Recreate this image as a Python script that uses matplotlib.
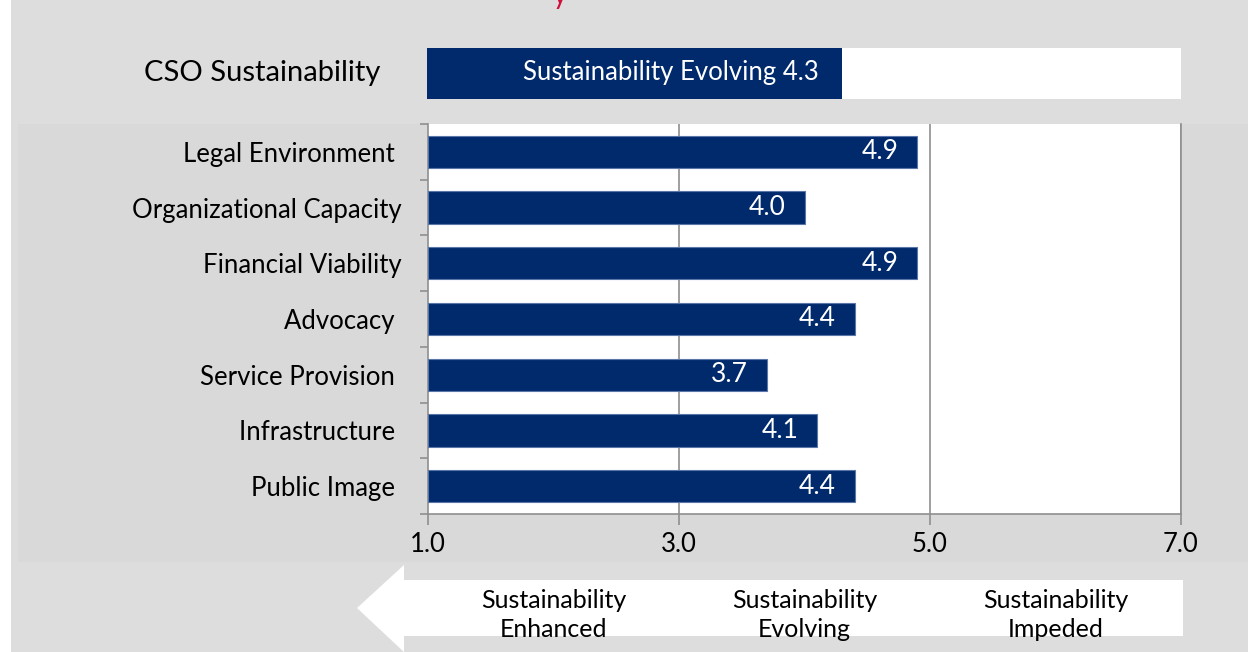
import matplotlib.pyplot as plt
from matplotlib.patches import Polygon, Rectangle

plt.rcParams['font.family'] = ['Lato', 'DejaVu Sans']

# Chart data
categories = ['Legal Environment ', 'Organizational Capacity', 'Financial Viability',
              'Advocacy ', 'Service Provision ', 'Infrastructure ', 'Public Image ']
scores = [4.9, 4.0, 4.9, 4.4, 3.7, 4.1, 4.4]
overall_label = 'Sustainability Evolving'
overall_score = 4.3
x_ticks = [1.0, 3.0, 5.0, 7.0]
zones = ['Sustainability\nEnhanced', 'Sustainability\nEvolving', 'Sustainability\nImpeded']
zone_centers = [2.0, 4.0, 6.0]

navy = '#002a6c'
grid_gray = '#8f8f8f'
W, H = 1248, 652

fig = plt.figure(figsize=(W / 100, H / 100), dpi=100)
fig.patch.set_facecolor('#dddddd')

def fx(px):
    return px / W

def fy(py):
    return 1 - py / H

# background strips (behind the axes)
fig.patches.append(Rectangle((0, 0), fx(11), 1, transform=fig.transFigure,
                             facecolor='white', edgecolor='none', zorder=-2))
fig.patches.append(Rectangle((fx(18), fy(562)), 1, fy(124) - fy(562), transform=fig.transFigure,
                             facecolor='#d9d9d9', edgecolor='none', zorder=-2))

# cut-off red title at the top
fig.text(fx(560), fy(-4), 'y', color='#d0103a', fontsize=20, ha='center', va='center')

# overall score bar
ax0 = fig.add_axes([fx(427), fy(99), fx(1181) - fx(427), fy(48) - fy(99)])
ax0.set_facecolor('white')
ax0.barh([0], [overall_score - 1], left=1, height=1.0, color=navy)
ax0.set_xlim(1, 7)
ax0.set_ylim(-0.5, 0.5)
ax0.set_xticks([])
ax0.set_yticks([])
for sp in ax0.spines.values():
    sp.set_visible(False)
ax0.text(overall_score - 0.18, 0.02, f'{overall_label} {overall_score:.1f}', color='white',
         fontsize=18.5, ha='right', va='center')
fig.text(fx(380), fy(73), 'CSO Sustainability', fontsize=21, ha='right', va='center')

# main bar chart
ax = fig.add_axes([fx(428), fy(514), fx(1181) - fx(428), fy(124) - fy(514)])
ax.set_facecolor('white')
ypos = list(range(len(categories)))
ax.barh(ypos, [s - 1 for s in scores], left=1, height=0.58, color=navy,
        edgecolor='#5a76a8', linewidth=0.8, zorder=3)
for y, s in zip(ypos, scores):
    ax.text(s - 0.15, y, f'{s:.1f}', color='white', fontsize=19, ha='right', va='center', zorder=4)

ax.set_xlim(1, 7)
ax.set_ylim(len(categories) - 0.5, -0.5)
ax.set_xticks(x_ticks)
ax.set_xticklabels([f'{t:.1f}' for t in x_ticks], fontsize=18.5)
ax.set_yticks(ypos)
ax.set_yticklabels(categories, fontsize=18.5)
ax.set_yticks([i - 0.5 for i in range(len(categories) + 1)], minor=True)
ax.tick_params(axis='y', which='major', length=0, pad=19)
ax.tick_params(axis='y', which='minor', length=6, color=grid_gray, width=1.2)
ax.tick_params(axis='x', length=8, color=grid_gray, width=1.2, pad=5)
for x in x_ticks[1:]:
    ax.axvline(x, color=grid_gray, linewidth=1.2, zorder=1)
ax.spines['top'].set_visible(False)
for side in ['left', 'bottom', 'right']:
    ax.spines[side].set_color(grid_gray)
    ax.spines[side].set_linewidth(1.2)

# arrow along the bottom
arrow = Polygon([(fx(357), fy(608)), (fx(404), fy(565)), (fx(404), fy(580)),
                 (fx(1183), fy(580)), (fx(1183), fy(636)), (fx(404), fy(636)),
                 (fx(404), fy(652))], closed=True, transform=fig.transFigure,
                facecolor='white', edgecolor='none', zorder=1)
fig.patches.append(arrow)
for c, label in zip(zone_centers, zones):
    xf = fx(428 + (c - 1) * (1181 - 428) / 6)
    fig.text(xf, fy(615), label, fontsize=18, ha='center', va='center', linespacing=1.3)

fig.savefig('out.png', dpi=100)
